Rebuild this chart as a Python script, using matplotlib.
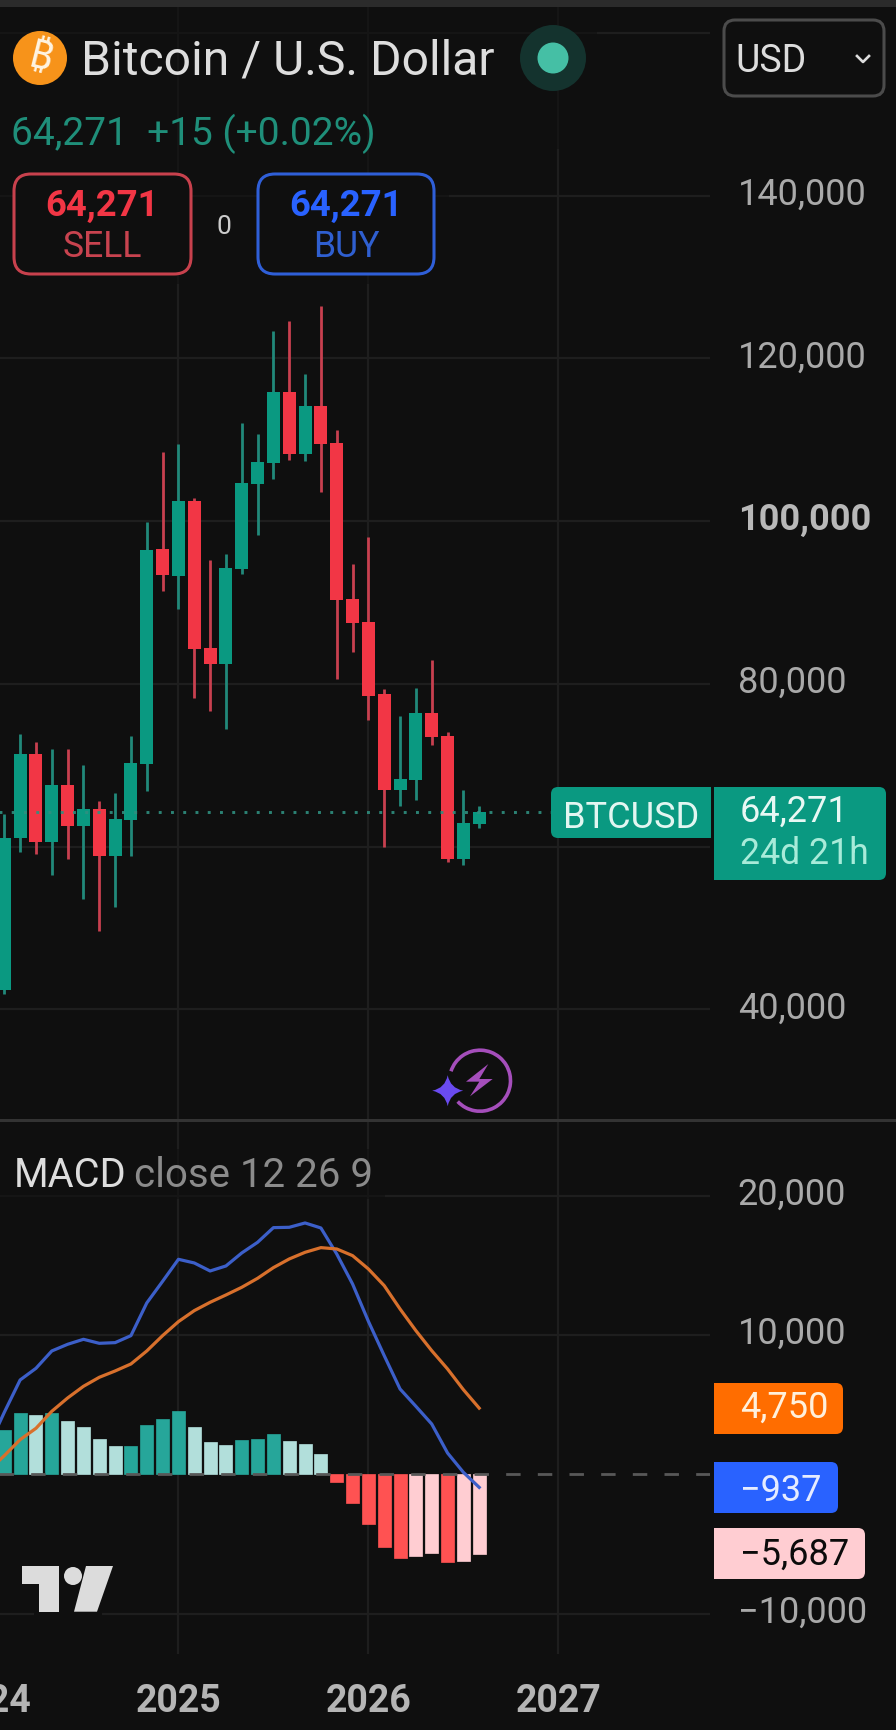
import numpy as np
import matplotlib
matplotlib.use('Agg')
import matplotlib.pyplot as plt
from matplotlib.patches import Rectangle, FancyBboxPatch, Circle, Arc, Polygon, PathPatch
from matplotlib.path import Path
from matplotlib.transforms import ScaledTranslation

plt.rcParams['font.family'] = ['Roboto', 'DejaVu Sans']

# monthly candles, first one is Feb 2024
opens = [42387, 61024, 71346, 60532, 67537, 62499, 64588, 58812, 63236, 70117, 96571,
         93253, 102469, 84406, 82440, 94113, 104558, 107139, 115863, 108244, 114143,
         109596, 90427, 87601, 78719, 66922, 68151, 76384, 73558, 58444, 62744]
closes = [61106, 71346, 60532, 67537, 62499, 64588, 58812, 63359, 70240, 96448, 93376,
          102469, 84283, 82440, 94236, 104681, 107261, 115863, 108244, 114143, 109473,
          90304, 87478, 78473, 66922, 68274, 76384, 73435, 58444, 62867, 64271]
highs = [63973, 73804, 72820, 71960, 71960, 69994, 65571, 66554, 73558, 99889, 108490,
         109473, 102838, 95219, 95957, 112054, 110702, 123359, 124588, 118075, 126431,
         111194, 94728, 98045, 79333, 76015, 79456, 82931, 74049, 66922, 64956]
lows = [41855, 59304, 59058, 56477, 58444, 53528, 49596, 52545, 58812, 66799, 91410,
        89198, 78227, 76630, 74418, 93501, 98291, 105172, 107507, 107384, 103575,
        80596, 83914, 75524, 59918, 64956, 65693, 72452, 58075, 57706, 62253]

hist = [3183, 4403, 4260, 4403, 3829, 3398, 2537, 2034, 2034, 3542, 3972, 4547, 3398,
        2321, 2106, 2465, 2537, 2896, 2393, 2178, 1460, -550, -2058, -3566, -5217,
        -6006, -5863, -5648, -6294, -6222, -5687]
# these two start one month earlier, off the left edge
macd = [1986, 4451, 6772, 7610, 8854, 9333, 9692, 9404, 9452, 9955, 12300, 13855, 15435,
        15172, 14597, 14956, 15890, 16655, 17708, 17732, 18043, 17684, 15818, 13664,
        10984, 8519, 6126, 4882, 3613, 1532, 144, -937]
signal = [263, 1340, 2489, 3302, 4523, 5480, 6318, 6964, 7418, 7921, 8854, 9955, 10960,
          11750, 12348, 12874, 13425, 14071, 14837, 15459, 15937, 16272, 16177, 15698,
          14741, 13544, 11869, 10314, 8878, 7562, 6078, 4750]

price_ticks = [40000, 60000, 80000, 100000, 120000, 140000, 160000]
macd_ticks = [-10000, 10000, 20000]
year_ticks = [-1, 11, 23, 35]
year_labels = ['2024', '2025', '2026', '2027']
last_price = 64271

BG = '#0f0f0f'
GRID = '#1e1e1e'
UP = '#0a9981'
DOWN = '#f23645'
UP_WICK = '#21897a'
DOWN_WICK = '#c8404f'
W, H = 896, 1731
LEFT_W = 710
XLIM = (-0.272, 44.58)


def pane(top, bottom):
    return fig.add_axes([0, 1 - bottom / H, LEFT_W / W, (bottom - top) / H], facecolor=BG)


fig = plt.figure(figsize=(W / 100, H / 100), dpi=100, facecolor=BG)

# price pane
ax = pane(8, 1121)
ax.set_ylim(26387, 163175)
x = np.arange(len(opens))
ax.vlines(year_ticks, 26387, 163175, color=GRID, lw=1.6, zorder=1)
ax.hlines(price_ticks, -1, 45, color=GRID, lw=1.6, zorder=1)
colors = [UP if c >= o else DOWN for o, c in zip(opens, closes)]
wicks = [UP_WICK if c >= o else DOWN_WICK for o, c in zip(opens, closes)]
ax.vlines(x, lows, highs, color=wicks, lw=2.0, zorder=3)
ax.bar(x, np.array(closes) - np.array(opens), bottom=opens, width=0.82, color=colors, zorder=4)
ax.plot([-1, 45], [last_price, last_price], color='#2f9080', lw=2.1, alpha=0.9,
        linestyle=(0, (1, 3.2)), zorder=5)

# macd pane
ax2 = pane(1121, 1655)
ax2.set_ylim(-12900, 25435)
ax2.vlines(year_ticks, -12900, 25435, color=GRID, lw=1.6, zorder=1)
ax2.hlines(macd_ticks, -1, 45, color=GRID, lw=1.6, zorder=1)
hist_colors = []
for i, h in enumerate(hist):
    prev = hist[i - 1] if i else 0
    if h >= 0:
        hist_colors.append('#26a69a' if h >= prev else '#b2dfdb')
    else:
        hist_colors.append('#ff5252' if h < prev else '#ffcdd2')
ax2.bar(x, hist, width=0.82, color=hist_colors, edgecolor=hist_colors, lw=0.5, zorder=3)
ax2.plot([-1, 45], [0, 0], color='#585858', lw=2.0, linestyle=(0, (5.2, 6.2)), zorder=4)
line_x = np.arange(-1, len(hist))
ax2.plot(line_x, macd, color='#3c5fc9', lw=2.3, zorder=5)
ax2.plot(line_x, signal, color='#d8702c', lw=2.3, zorder=5)

up_shift = ScaledTranslation(0, 6 / 100, fig.dpi_scale_trans)
for a, ticks in ((ax, price_ticks), (ax2, macd_ticks)):
    for s in a.spines.values():
        s.set_visible(False)
    a.yaxis.tick_right()
    a.set_yticks(ticks)
    a.set_yticklabels([f'{t:,}'.replace('-', '\u2212') for t in ticks], ha='left')
    a.tick_params(axis='y', length=0, pad=20, labelsize=26, labelcolor='#a9a9a9')
    a.tick_params(axis='x', length=0)
    for lab in a.get_yticklabels():
        lab.set_transform(lab.get_transform() + up_shift)
ax.set_xticks([])
for lab, t in zip(ax.get_yticklabels(), price_ticks):
    if t == 100000:
        lab.set_fontweight('bold')
        lab.set_color('#b8b8b8')
    if t == 160000 or t == 60000:
        lab.set_visible(False)
ax2.set_xticks(year_ticks[1:])
ax2.set_xticklabels(year_labels[1:], fontsize=27, fontweight='bold', color='#b5b5b5')
ax2.tick_params(axis='x', pad=20)
ax.set_xlim(*XLIM)
ax2.set_xlim(*XLIM)
# 2024 sits just past the left edge, a tick label there would be dropped
ax2.annotate(year_labels[0], xy=(year_ticks[0], 0), xycoords=ax2.get_xaxis_transform(),
             xytext=(0, -20), textcoords='offset points', ha='center', va='top',
             fontsize=27, fontweight='bold', color='#b5b5b5', annotation_clip=False)

# everything from the app around the chart, in pixels
ui = fig.add_axes([0, 0, 1, 1], facecolor='none', zorder=10)
ui.set_xlim(0, W)
ui.set_ylim(H, 0)
ui.axis('off')


def box(x0, y0, x1, y1, fc, ec='none', lw=0, r=14, zorder=3):
    ui.add_patch(FancyBboxPatch((x0 + r, y0 + r), x1 - x0 - 2 * r, y1 - y0 - 2 * r,
                                boxstyle=f'round,pad={r},rounding_size={r}',
                                fc=fc, ec=ec, lw=lw, zorder=zorder))


def tag(x0, y0, x1, y1, fc, square='left', r=7):
    box(x0, y0, x1, y1, fc, r=r)
    if square == 'left':
        ui.add_patch(Rectangle((x0, y0), r + 1, y1 - y0, fc=fc, ec='none', zorder=3))
    else:
        ui.add_patch(Rectangle((x1 - r - 1, y0), r + 1, y1 - y0, fc=fc, ec='none', zorder=3))


def label(px, py, s, size, color, ha='left', weight='normal', **kw):
    ui.text(px, py, s, fontsize=size, color=color, ha=ha, va='center_baseline',
            fontweight=weight, zorder=6, **kw)


# separators and dimmed grid behind the legends
ui.add_patch(Rectangle((0, 0), W, 8, fc='#2b2b2b', ec='none'))
ui.add_patch(Rectangle((0, 1119.5), W, 3, fc='#333333', ec='none', zorder=2))
ui.add_patch(Rectangle((0, 8), 597, 142, fc=BG, ec='none', alpha=0.6))
ui.add_patch(Rectangle((0, 150), 449, 135, fc=BG, ec='none', alpha=0.6))
ui.add_patch(Rectangle((0, 1150), 385, 50, fc=BG, ec='none', alpha=0.6))
ui.add_patch(Rectangle((34, 1611), 68, 7, fc=BG, ec='none'))

# header
ui.add_patch(Circle((40, 59), 27, fc='#f7931a', ec='none', zorder=3))
ui.text(40, 59, '\u20bf', fontsize=29, color='#fff4e2', ha='center', va='center', rotation=-14,
        fontweight='bold', family=['Noto Sans', 'Inter', 'Open Sans', 'Liberation Sans', 'DejaVu Sans'],
        zorder=6)
label(81, 57, 'Bitcoin / U.S. Dollar', 34.7, '#dedede')
ui.add_patch(Circle((553, 59), 33, fc='#14332e', ec='none', zorder=3))
ui.add_patch(Circle((553, 59), 15.5, fc='#45bfa5', ec='none', zorder=4))
box(724, 21, 884, 97, BG, ec='#4b4b4b', lw=2.2, r=11)
label(735, 58, 'USD', 27, '#dddddd')
ui.plot([857, 863, 869], [57, 63, 57], color='#dddddd', lw=1.9, zorder=6)
label(11, 129, '64,271  +15 (+0.02%)', 28, '#1f8f7a')

# sell / buy
box(14, 175, 191, 275, BG, ec='#c8414d', lw=2.2, r=17)
label(102, 202, '64,271', 26.3, '#f23645', ha='center', weight='bold')
label(102, 243, 'SELL', 25.6, '#c8434f', ha='center')
label(224, 224, '0', 19, '#cccccc', ha='center')
box(258, 175, 434, 275, BG, ec='#2f5fd8', lw=2.2, r=17)
label(346, 202, '64,271', 26.3, '#2962ff', ha='center', weight='bold')
label(346, 243, 'BUY', 25.6, '#2f5fd0', ha='center')

# price tags
tag(551, 788, 711, 839, UP, square='right')
label(563, 814, 'BTCUSD', 26, '#e2f6f1')
tag(714, 788, 886, 881, UP)
label(740, 808, '64,271', 26, '#e8f8f4')
label(740, 850, '24d 21h', 25.7, '#a8ebd9')
tag(714, 1384, 843, 1435, '#ff6d00')
label(740, 1404, '4,750', 26, '#fff0dc')
tag(714, 1463, 838, 1514, '#2962ff')
label(740, 1487, '\u2212937', 26, '#e6ecff')
tag(714, 1529, 865, 1580, '#ffcdd2')
label(740, 1551, '\u22125,687', 26, '#0b0b0b')

# macd legend
label(14, 1172, 'MACD', 28.6, '#dddddd')
label(134, 1172, 'close 12 26 9', 29, '#8b8b8b')

# tradingview logo
logo = '#dcdcdc'
ui.add_patch(Polygon([(21.7, 1567), (59.4, 1567), (59.4, 1612.7), (39, 1612.7), (39, 1585), (21.7, 1585)],
                     fc=logo, ec='none', zorder=6))
ui.add_patch(Circle((73, 1577), 9, fc=logo, ec='none', zorder=6))
ui.add_patch(Polygon([(86, 1567), (113, 1567), (97, 1612.7), (74, 1612.7)], fc=logo, ec='none', zorder=6))

# bolt icon
ring = '#a54ebb'
ui.add_patch(Arc((480, 1081.7), 61, 61, theta1=198, theta2=497, ec=ring, lw=2.6, zorder=6))
bolt = [(235, 105), (168, 158), (208, 158), (180, 202), (248, 150), (208, 150)]
ui.add_patch(Polygon([(410 + a / 3, 1030 + b / 3) for a, b in bolt], fc=ring, ec='none', zorder=6))
cx, cy, rx, c = 447.7, 1091.7, 15.5, 2.5
star = Path([(cx, cy - rx), (cx + c, cy - c), (cx + rx, cy), (cx + c, cy + c), (cx, cy + rx),
             (cx - c, cy + c), (cx - rx, cy), (cx - c, cy - c), (cx, cy - rx)],
            [Path.MOVETO] + [Path.CURVE3] * 8)
ui.add_patch(PathPatch(star, fc='#6a4bf0', ec='none', zorder=6))

fig.savefig('out.png', dpi=100, facecolor=BG)
